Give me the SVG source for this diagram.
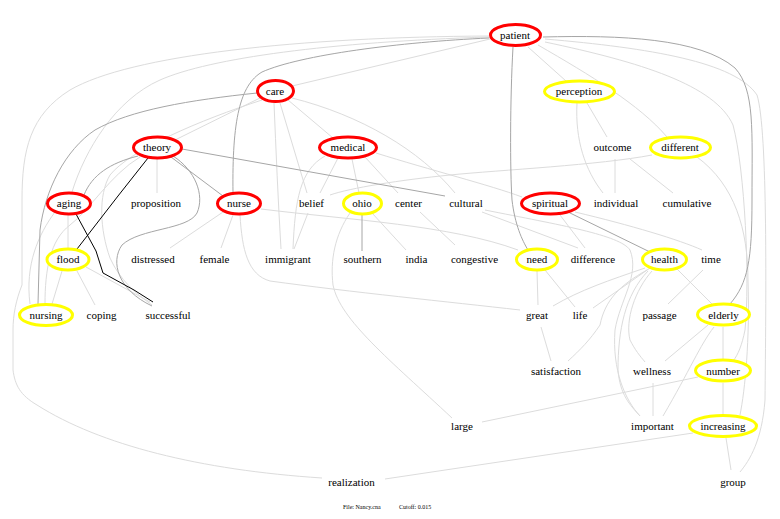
<svg xmlns="http://www.w3.org/2000/svg" width="780" height="519" viewBox="0 0 780 519">
<style>
text{font-family:"Liberation Serif","Times New Roman",serif;font-size:11px;fill:#000;text-anchor:middle}
.e path{fill:none}
.lt{stroke:#dcdcdc;stroke-width:1}
.dk{stroke:#a6a6a6;stroke-width:1}
.bk{stroke:#000;stroke-width:1}
.red{fill:#fff;stroke:#ff0000;stroke-width:3}
.yel{fill:#fff;stroke:#ffff00;stroke-width:3}
.foot{font-size:6px;text-anchor:start}
</style>
<rect width="780" height="519" fill="#fff"/>
<g id="edges" class="e">
<path class="lt" d="M 490,39 L 292,86"/>
<path class="lt" d="M 528,47 L 566,81"/>
<path class="lt" d="M 538,45 C 590,75 640,105 667,137"/>
<path class="lt" d="M 545,42 C 640,62 715,85 733,125 C 745,170 750,280 745,330 C 742,345 738,355 733,361"/>
<path class="lt" d="M 545,39 C 650,48 735,62 757,95 C 768,130 766,300 765,400 C 762,440 750,460 740,472"/>
<path class="lt" d="M 489,36 C 300,37 130,55 70,90 C 30,115 22,150 22,200 L 22,285 C 16,300 13,315 13,330 L 13,370 C 15,385 20,395 37,405 C 100,445 200,470 322,478"/>
<path class="lt" d="M 489,37 C 330,42 210,58 160,80 C 115,100 85,150 72,192"/>
<path class="lt" d="M 260,98 L 175,140"/>
<path class="lt" d="M 262,100 C 200,120 130,150 110,175 C 98,195 100,230 110,258 C 120,280 135,293 152,305"/>
<path class="lt" d="M 140,157 C 110,175 90,210 70,225 C 50,240 45,270 45,304"/>
<path class="lt" d="M 55,212 C 38,235 25,265 30,304"/>
<path class="lt" d="M 68,215 L 68,248"/>
<path class="lt" d="M 62,271 L 52,304"/>
<path class="lt" d="M 77,271 L 95,305"/>
<path class="lt" d="M 86,267 L 150,302"/>
<path class="lt" d="M 157,159 L 157,193"/>
<path class="lt" d="M 288,100 L 333,138"/>
<path class="lt" d="M 280,103 L 307,193"/>
<path class="lt" d="M 274,103 C 276,150 278,200 281,249"/>
<path class="lt" d="M 292,98 C 360,115 420,150 455,193"/>
<path class="lt" d="M 338,158 L 320,193"/>
<path class="lt" d="M 325,156 C 300,170 295,200 293,249"/>
<path class="lt" d="M 308,213 L 294,249"/>
<path class="lt" d="M 352,159 L 359,193"/>
<path class="lt" d="M 365,157 L 398,193"/>
<path class="lt" d="M 376,153 C 430,170 490,185 522,197"/>
<path class="lt" d="M 652,155 C 600,165 500,170 450,175 C 400,180 350,188 330,195"/>
<path class="lt" d="M 261,209 C 350,220 450,225 518,250"/>
<path class="lt" d="M 240,215 C 242,250 248,275 270,281 C 350,292 450,302 520,310"/>
<path class="lt" d="M 223,212 L 170,248"/>
<path class="lt" d="M 233,215 L 221,248"/>
<path class="lt" d="M 372,213 L 406,250"/>
<path class="lt" d="M 350,213 C 335,235 330,260 333,285 C 340,320 390,360 452,418"/>
<path class="lt" d="M 420,212 L 455,245"/>
<path class="lt" d="M 482,212 L 578,248"/>
<path class="lt" d="M 560,215 L 585,248"/>
<path class="lt" d="M 575,212 C 630,225 680,240 702,250"/>
<path class="lt" d="M 485,210 C 560,225 620,235 630,250 C 640,275 620,300 615,330 C 612,370 625,400 640,416"/>
<path class="lt" d="M 587,103 L 607,137"/>
<path class="lt" d="M 577,103 C 575,140 585,170 603,193"/>
<path class="lt" d="M 615,159 L 615,193"/>
<path class="lt" d="M 630,159 L 673,193"/>
<path class="lt" d="M 697,157 C 735,185 748,230 748,280 C 750,340 745,390 740,415"/>
<path class="lt" d="M 537,271 L 538,305"/>
<path class="lt" d="M 545,270 L 575,307"/>
<path class="lt" d="M 541,327 L 551,361"/>
<path class="lt" d="M 645,268 C 610,280 580,290 553,306"/>
<path class="lt" d="M 650,268 L 593,308"/>
<path class="lt" d="M 647,270 C 620,285 605,300 600,325 C 590,340 580,350 568,361"/>
<path class="lt" d="M 652,271 C 635,290 625,320 630,340 C 635,350 640,356 645,362"/>
<path class="lt" d="M 648,271 C 625,295 618,330 618,370 C 620,395 630,405 640,416"/>
<path class="lt" d="M 677,269 L 713,305"/>
<path class="lt" d="M 703,270 L 668,304"/>
<path class="lt" d="M 708,325 L 665,361"/>
<path class="lt" d="M 714,327 C 700,345 690,370 663,416"/>
<path class="lt" d="M 723,327 L 723,360"/>
<path class="lt" d="M 723,383 L 723,415"/>
<path class="lt" d="M 698,377 L 482,422"/>
<path class="lt" d="M 653,383 L 653,416"/>
<path class="lt" d="M 693,433 L 385,479"/>
<path class="lt" d="M 726,438 L 731,470"/>
<path class="dk" d="M 489,38 C 400,42 300,55 262,72 C 240,85 232,120 233,193"/>
<path class="dk" d="M 257,93 C 190,100 130,110 95,130 C 65,150 45,190 40,230 L 38,304"/>
<path class="dk" d="M 182,149 L 445,196"/>
<path class="dk" d="M 171,157 L 223,196"/>
<path class="dk" d="M 138,156 C 110,163 92,175 84,195"/>
<path class="dk" d="M 173,156 C 195,170 205,195 197,213 C 188,230 140,228 122,245 C 110,262 118,290 152,306"/>
<path class="dk" d="M 513,47 C 510,100 510,170 512,200 C 515,225 522,240 528,250"/>
<path class="dk" d="M 543,37 C 620,35 700,38 735,68 C 755,90 752,130 752,200 C 752,260 748,283 730,304"/>
<path class="dk" d="M 568,212 L 650,252"/>
<path class="dk" d="M 362,215 L 362,251"/>
<path class="bk" d="M 148,158 L 118,196 L 77,249"/>
<path class="bk" d="M 76,214 L 96,251 L 103,273 L 134,290 L 153,302"/>
</g>
<g id="patient"><ellipse class="red" cx="515.5" cy="35" rx="25" ry="10.5"/><text x="515" y="39">patient</text></g>
<g id="care"><ellipse class="red" cx="275.5" cy="91" rx="18" ry="10.5"/><text x="275" y="95">care</text></g>
<g id="perception"><ellipse class="yel" cx="579.5" cy="91.5" rx="35" ry="10.5"/><text x="579" y="95">perception</text></g>
<g id="theory"><ellipse class="red" cx="157.5" cy="147.5" rx="24" ry="10.5"/><text x="157" y="151">theory</text></g>
<g id="medical"><ellipse class="red" cx="348" cy="147.5" rx="28.5" ry="10.5"/><text x="348" y="151">medical</text></g>
<g id="outcome"><text x="612.5" y="151">outcome</text></g>
<g id="different"><ellipse class="yel" cx="680.5" cy="147.5" rx="30" ry="10.5"/><text x="680" y="151">different</text></g>
<g id="aging"><ellipse class="red" cx="69" cy="203.5" rx="21.5" ry="10.5"/><text x="69" y="207">aging</text></g>
<g id="proposition"><text x="156" y="207">proposition</text></g>
<g id="nurse"><ellipse class="red" cx="239" cy="203.5" rx="21.5" ry="10.5"/><text x="239" y="207">nurse</text></g>
<g id="belief"><text x="311.5" y="207">belief</text></g>
<g id="ohio"><ellipse class="yel" cx="362.5" cy="203.5" rx="19" ry="10.5"/><text x="362" y="207">ohio</text></g>
<g id="center"><text x="408.5" y="207">center</text></g>
<g id="cultural"><text x="466" y="207">cultural</text></g>
<g id="spiritual"><ellipse class="red" cx="550.5" cy="203.5" rx="29" ry="10.5"/><text x="550" y="207">spiritual</text></g>
<g id="individual"><text x="616" y="207">individual</text></g>
<g id="cumulative"><text x="687" y="207">cumulative</text></g>
<g id="flood"><ellipse class="yel" cx="68" cy="259.5" rx="21" ry="10.5"/><text x="68" y="263">flood</text></g>
<g id="distressed"><text x="153" y="263">distressed</text></g>
<g id="female"><text x="214.5" y="263">female</text></g>
<g id="immigrant"><text x="288" y="263">immigrant</text></g>
<g id="southern"><text x="362.5" y="263">southern</text></g>
<g id="india"><text x="416.5" y="263">india</text></g>
<g id="congestive"><text x="474.5" y="263">congestive</text></g>
<g id="need"><ellipse class="yel" cx="537" cy="259.5" rx="20.5" ry="10.5"/><text x="537" y="263">need</text></g>
<g id="difference"><text x="593" y="263">difference</text></g>
<g id="health"><ellipse class="yel" cx="664.5" cy="259.5" rx="22" ry="10.5"/><text x="664.5" y="263">health</text></g>
<g id="time"><text x="711" y="263">time</text></g>
<g id="nursing"><ellipse class="yel" cx="46" cy="315" rx="26.5" ry="10.5"/><text x="46" y="319">nursing</text></g>
<g id="coping"><text x="101.5" y="319">coping</text></g>
<g id="successful"><text x="168" y="319">successful</text></g>
<g id="great"><text x="537" y="319">great</text></g>
<g id="life"><text x="580" y="319">life</text></g>
<g id="passage"><text x="659.5" y="319">passage</text></g>
<g id="elderly"><ellipse class="yel" cx="723.5" cy="314.5" rx="26" ry="10.5"/><text x="723.5" y="319">elderly</text></g>
<g id="satisfaction"><text x="556" y="375">satisfaction</text></g>
<g id="wellness"><text x="652" y="375">wellness</text></g>
<g id="number"><ellipse class="yel" cx="723" cy="370.5" rx="27.5" ry="10.5"/><text x="723" y="375">number</text></g>
<g id="large"><text x="462" y="430">large</text></g>
<g id="important"><text x="652.5" y="430">important</text></g>
<g id="increasing"><ellipse class="yel" cx="723" cy="426" rx="33.5" ry="10.5"/><text x="723" y="430">increasing</text></g>
<g id="realization"><text x="351.5" y="486">realization</text></g>
<g id="group"><text x="733" y="486">group</text></g>
<text class="foot" x="343" y="509">File: Nancy.cna</text>
<text class="foot" x="399" y="509">Cutoff: 0.015</text>
</svg>
